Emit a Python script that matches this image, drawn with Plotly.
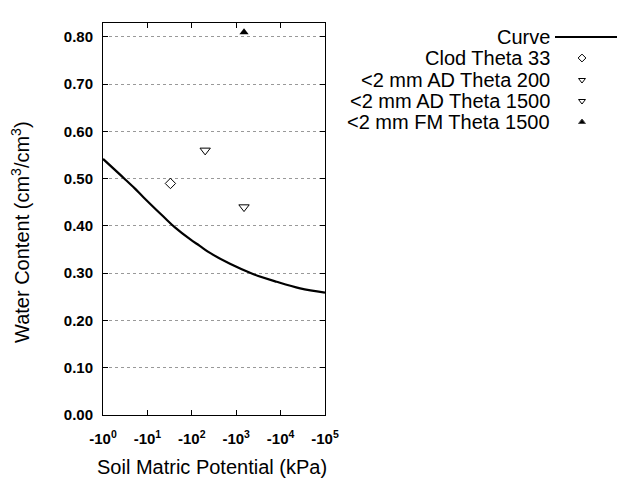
import plotly.graph_objects as go

# ---- data ----
curve_kpa = [1, 3.13, 5.25, 8.13, 22.9, 41.7, 91.2, 151, 257, 724, 2455, 8128, 27540, 100000]
curve_theta = [0.542, 0.499, 0.479, 0.461, 0.420, 0.397, 0.372, 0.358, 0.343, 0.320, 0.298, 0.282, 0.268, 0.259]

clod33_kpa = [33]
clod33_theta = [0.49]
ad200_kpa = [200]
ad200_theta = [0.56]
ad1500_kpa = [1500]
ad1500_theta = [0.44]
fm1500_kpa = [1500]
fm1500_theta = [0.81]

x_tickvals = [1, 10, 100, 1000, 10000, 100000]
x_ticktext = ["-10<sup>%d</sup>" % i for i in range(6)]
legend_labels = ["Curve", "Clod Theta 33", "<2 mm AD Theta 200", "<2 mm AD Theta 1500", "<2 mm FM Theta 1500"]

W, H = 640, 480
L, R, T, B = 103, 325, 23, 415
FONT = "Liberation Sans, Arial, sans-serif"

fig = go.Figure()
fig.add_trace(go.Scatter(x=curve_kpa, y=curve_theta, mode="lines",
                         line=dict(color="black", width=2.2, shape="spline", smoothing=1.0),
                         showlegend=False, hoverinfo="skip"))
fig.add_trace(go.Scatter(x=clod33_kpa, y=clod33_theta, mode="markers",
                         marker=dict(symbol="diamond-open", size=8, color="black", line=dict(width=1)),
                         showlegend=False))
fig.add_trace(go.Scatter(x=ad200_kpa, y=ad200_theta, mode="markers",
                         marker=dict(symbol="triangle-down-open", size=9, color="black", line=dict(width=1)),
                         showlegend=False))
fig.add_trace(go.Scatter(x=ad1500_kpa, y=ad1500_theta, mode="markers",
                         marker=dict(symbol="triangle-down-open", size=9, color="black", line=dict(width=1)),
                         showlegend=False))
fig.add_trace(go.Scatter(x=fm1500_kpa, y=fm1500_theta, mode="markers",
                         marker=dict(symbol="triangle-up", size=8, color="black"),
                         showlegend=False))

# ---- manual legend (keys on the right of the text), pixel overlay axes ----
leg_y = [37, 58, 80, 101, 122]
leg_text_x = 552
leg_key_x = 582
fig.add_trace(go.Scatter(x=[555, 617], y=[leg_y[0], leg_y[0]], mode="lines",
                         line=dict(color="black", width=2), xaxis="x2", yaxis="y2",
                         showlegend=False, hoverinfo="skip"))
leg_syms = ["diamond-open", "triangle-down-open", "triangle-down-open", "triangle-up"]
for sym, yy in zip(leg_syms, leg_y[1:]):
    fig.add_trace(go.Scatter(x=[leg_key_x], y=[yy], mode="markers",
                             marker=dict(symbol=sym, size=6, color="black", line=dict(width=1)),
                             xaxis="x2", yaxis="y2", showlegend=False, hoverinfo="skip"))
for lab, yy in zip(legend_labels, leg_y):
    fig.add_annotation(text=lab.replace("<", "&lt;"), x=leg_text_x / W, y=1 - yy / H,
                       xref="paper", yref="paper", xanchor="right", yanchor="middle",
                       showarrow=False, font=dict(family=FONT, size=20, color="black"))

# axis titles
fig.add_annotation(text="Water Content (cm<sup>3</sup>/cm<sup>3</sup>)", x=20 / W, y=1 - 232 / H,
                   xref="paper", yref="paper", textangle=-90, showarrow=False,
                   xanchor="center", yanchor="middle", font=dict(family=FONT, size=20, color="black"))
fig.add_annotation(text="Soil Matric Potential (kPa)", x=212 / W, y=1 - 467 / H,
                   xref="paper", yref="paper", showarrow=False,
                   xanchor="center", yanchor="middle", font=dict(family=FONT, size=20, color="black"))

fig.update_layout(
    width=W, height=H,
    margin=dict(l=0, r=0, t=0, b=0, autoexpand=False),
    paper_bgcolor="white", plot_bgcolor="rgba(0,0,0,0)",
    font=dict(family=FONT, color="black"),
    xaxis=dict(type="log", range=[0, 5], domain=[L / W, R / W], anchor="y", automargin=False,
               tickvals=x_tickvals, ticktext=x_ticktext,
               ticks="inside", ticklen=5, tickcolor="black", mirror="ticks",
               showline=True, linecolor="black", linewidth=1, showgrid=False, zeroline=False,
               ticklabelstandoff=10,
               tickfont=dict(family=FONT, size=15, color="black", weight="bold")),
    yaxis=dict(range=[0, 0.8296], domain=[1 - B / H, 1 - T / H], dtick=0.1, tick0=0, anchor="x",
               automargin=False,
               tickformat=".2f", ticks="inside", ticklen=5, tickcolor="black", mirror="ticks",
               showline=True, linecolor="black", linewidth=1, zeroline=False,
               showgrid=True, gridcolor="#999999", griddash="dot", gridwidth=1,
               ticklabelstandoff=6,
               tickfont=dict(family=FONT, size=15, color="black", weight="bold")),
    xaxis2=dict(domain=[0, 1], range=[0, W], visible=False, anchor="y2", fixedrange=True, automargin=False),
    yaxis2=dict(domain=[0, 1], range=[H, 0], visible=False, anchor="x2", fixedrange=True, automargin=False),
    showlegend=False,
)

fig.write_html("out.html")
